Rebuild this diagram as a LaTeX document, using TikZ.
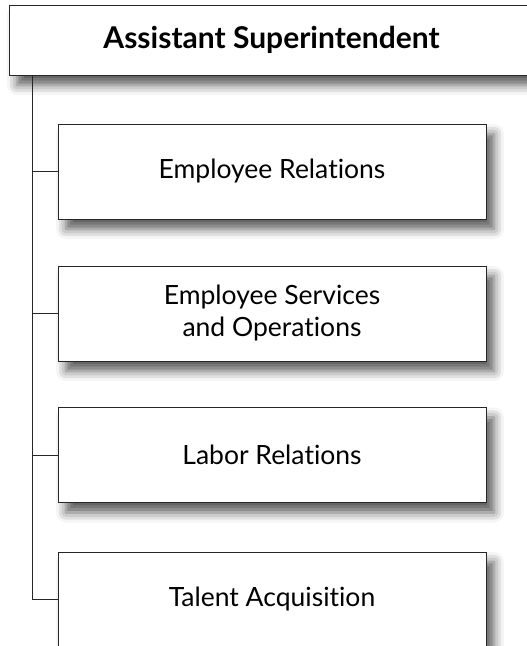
\documentclass[tikz,border=0pt]{standalone}
\usepackage{fontspec}
\setmainfont{Lato}[Ligatures={NoCommon,NoRequired,NoContextual}]
\usetikzlibrary{shadows.blur}

\begin{document}
\begin{tikzpicture}[x=1pt, y=-1pt,
every node/.style = {shape=rectangle, draw=black!85, line width=1pt,
	fill=white, align=center, font=\fontsize{26.5}{32}\selectfont,
	blur shadow={shadow xshift=8pt, shadow yshift=-10pt,
		shadow blur radius=10pt, shadow opacity=65}},
unit/.style = {minimum width=428pt, minimum height=95pt},
link/.style = {draw=black!85, line width=1pt}]
\useasboundingbox (0,0) rectangle (527,646);
\node[minimum width=525pt, minimum height=70pt, font=\fontsize{30}{35}\selectfont\bfseries]
	(asst) at (271.5,40) {Assistant Superintendent};
\node[unit] (emprel) at (272,171.5) {Employee Relations};
\node[unit] (empsvc) at (272,313.5) {Employee Services\\and Operations};
\node[unit] (labrel) at (272,455) {Labor Relations};
\node[unit] (talent) at (272,599.5) {Talent Acquisition};
% connectors
\coordinate (trunk) at ([xshift=24pt]asst.south west);
\draw[link] (trunk) |- (emprel.west);
\draw[link] (trunk) |- (empsvc.west);
\draw[link] (trunk) |- (labrel.west);
\draw[link] (trunk) |- (talent.west);
\end{tikzpicture}
\end{document}
